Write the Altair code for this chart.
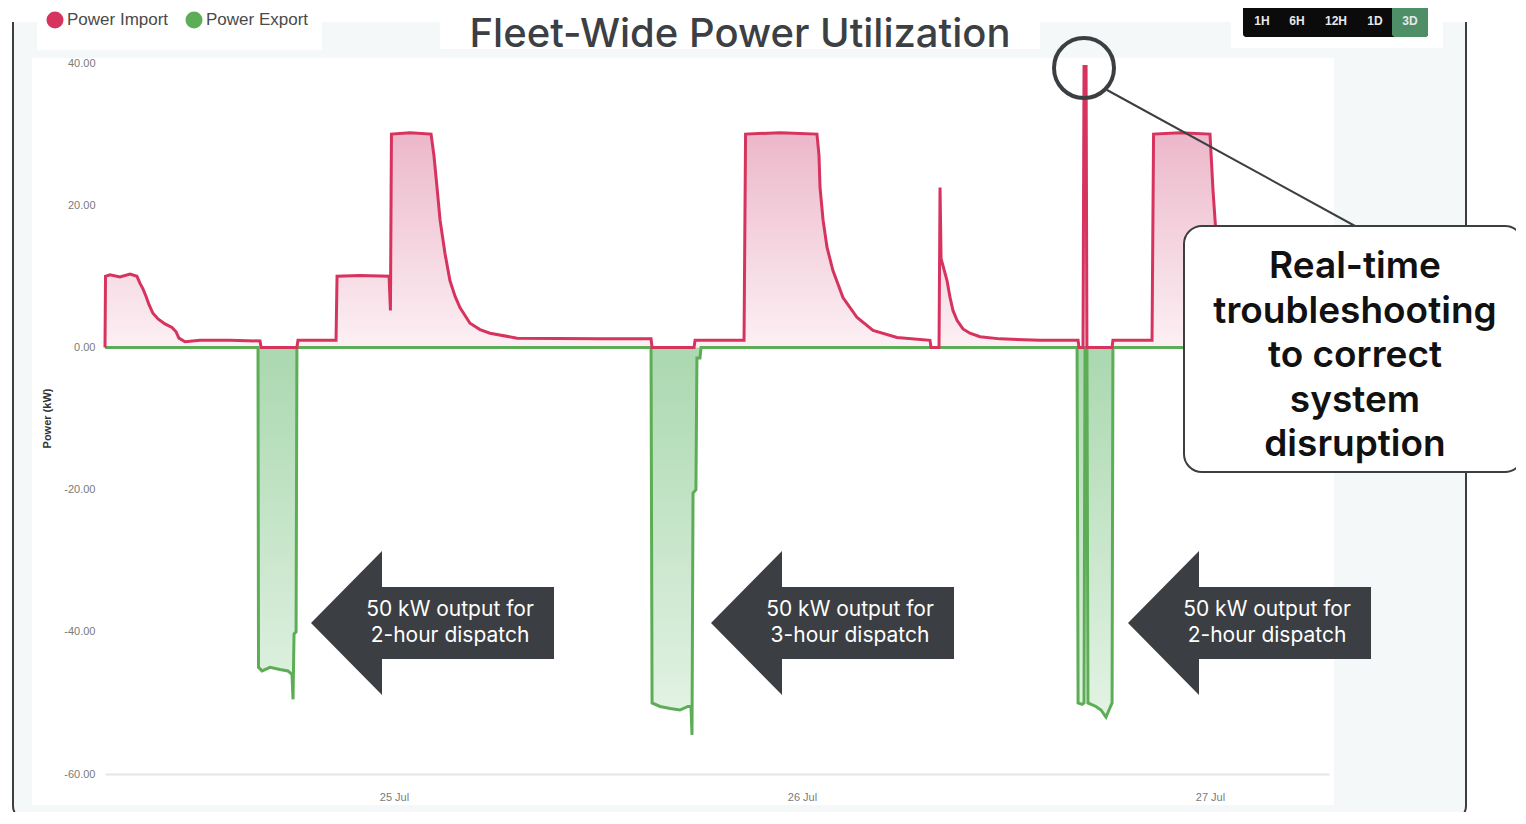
import altair as alt
import pandas as pd

# ---------------- data ----------------
title_text = "Fleet-Wide Power Utilization"
series_names = ["Power Import", "Power Export"]
series_colors = ["#d6335e", "#5cad55"]
range_buttons = ["1H", "6H", "12H", "1D", "3D"]
y_ticks = [-60, -40, -20, 0, 20, 40]
x_tick_days = [25, 26, 27]
dispatch_labels = [
    ["50 kW output for", "2-hour dispatch"],
    ["50 kW output for", "3-hour dispatch"],
    ["50 kW output for", "2-hour dispatch"],
]
callout_lines = ["Real-time", "troubleshooting", "to correct", "system", "disruption"]

# hours since 24 Jul 00:00
import_hours = [7.00, 7.03, 7.29, 7.88, 8.47, 8.88, 9.06, 9.24, 9.41, 9.59, 9.82, 10.12,
                10.53, 10.94, 11.18, 11.35, 11.71, 12.59, 14.35, 16.12, 16.18, 18.29,
                18.35, 20.59, 20.65, 22.00, 23.71, 23.79, 23.85, 24.94, 26.18, 26.35,
                26.53, 26.71, 27.00, 27.29, 27.59, 27.88, 28.47, 29.06, 29.65, 31.24,
                36.12, 39.12, 39.18, 41.65, 41.71, 44.59, 44.68, 46.71, 48.88, 49.00,
                49.06, 49.24, 49.47, 49.82, 50.41, 51.24, 52.18, 53.59, 55.53, 55.59,
                56.06, 56.12, 56.18, 56.35, 56.53, 56.71, 56.88, 57.12, 57.47, 57.88,
                58.47, 59.65, 62.00, 64.24, 64.29, 64.53, 64.59, 64.71, 64.76, 66.24,
                66.29, 68.59, 68.68, 70.24, 72.00, 72.18, 72.41, 72.71, 73.18, 74.06,
                75.24, 76.71, 79.00]
import_kw = [0.0, 10.0, 10.2, 9.9, 10.3, 10.0, 9.0, 8.2, 7.2, 6.0, 4.8, 4.0,
             3.3, 2.8, 2.2, 1.3, 0.8, 1.0, 1.0, 0.9, 0.0, 0.0,
             1.0, 1.0, 10.0, 10.1, 10.0, 5.2, 30.0, 30.2, 30.0, 27.0,
             22.5, 17.9, 13.2, 9.4, 7.2, 5.6, 3.4, 2.5, 2.0, 1.3,
             1.2, 1.2, 0.0, 0.0, 1.0, 1.0, 30.0, 30.2, 30.0, 27.0,
             22.5, 17.9, 14.1, 10.8, 7.0, 4.2, 2.4, 1.4, 1.0, 0.0,
             0.0, 22.5, 12.5, 11.0, 9.4, 7.0, 5.2, 3.8, 2.6, 2.0,
             1.5, 1.2, 1.0, 1.0, 0.0, 0.0, 39.5, 39.5, 0.0, 0.0,
             1.0, 1.0, 30.0, 30.2, 30.0, 22.0, 14.0, 10.0, 7.0, 4.0,
             2.5, 1.6, 1.2]

export_hours = [7.00, 16.00, 16.03, 16.24, 16.71, 17.29, 17.76, 18.00, 18.06, 18.12,
                18.24, 18.29, 39.12, 39.18, 39.65, 40.24, 40.82, 41.29, 41.47, 41.53,
                41.59, 41.76, 41.82, 42.00, 42.06, 64.18, 64.24, 64.47, 64.59, 64.65,
                64.76, 64.82, 65.29, 65.59, 65.88, 66.06, 66.24, 66.29, 79.00]
export_kw = [0.0, 0.0, -45.0, -45.5, -45.0, -45.3, -45.5, -46.0, -49.5, -40.3,
             -40.0, 0.0, 0.0, -50.0, -50.5, -50.8, -51.0, -50.5, -50.5, -54.5,
             -20.5, -20.0, -1.5, -1.5, 0.0, 0.0, -50.0, -50.2, -50.0, 0.0,
             0.0, -50.0, -50.5, -51.0, -52.0, -51.0, -50.0, 0.0, 0.0]

base_day = pd.Timestamp("2024-07-24")
imp = pd.DataFrame({"t": base_day + pd.to_timedelta(import_hours, unit="h"), "kw": import_kw})
exp = pd.DataFrame({"t": base_day + pd.to_timedelta(export_hours, unit="h"), "kw": export_kw})
one = pd.DataFrame({"k": [0]})

# ---------------- scales / axes ----------------
x_scale = alt.Scale(domain=[alt.DateTime(year=2024, month=7, date=24, hours=7),
                            alt.DateTime(year=2024, month=7, date=27, hours=7)])
y_scale = alt.Scale(domain=[-60, 40], nice=False, zero=False)
x_axis = alt.Axis(values=[alt.DateTime(year=2024, month=7, date=d) for d in x_tick_days],
                  format="%d %b", labelFont="Liberation Sans", labelFontSize=11,
                  labelColor="#7a7a7a", ticks=False, domain=True, domainColor="#e6e6e6",
                  domainWidth=2, grid=False, labelPadding=17, labelFlush=False,
                  labelOverlap=False, title=None, zindex=1)
y_axis = alt.Axis(values=y_ticks,
                  labelExpr="replace(format(datum.value, '.2f'), '\u2212', '-')",
                  labelFont="Liberation Sans", labelFontSize=11,
                  labelColor="#7a7a7a", ticks=False, domain=False, grid=False,
                  labelPadding=10, labelOverlap=False, labelFlush=False,
                  title="Power (kW)", titleFont="Liberation Sans", titleFontSize=11,
                  titleFontWeight="bold", titleColor="#333333", titleAngle=270,
                  titleX=-58, titleY=355, titleAlign="center", titleBaseline="middle",
                  zindex=1)

X = alt.X("t:T", scale=x_scale, axis=x_axis)
Y = alt.Y("kw:Q", scale=y_scale, axis=y_axis)

imp_area = alt.Chart(imp).mark_area(
    color=alt.Gradient(gradient="linear",
                       stops=[alt.GradientStop(color="#e7a6bd", offset=0),
                              alt.GradientStop(color="#fcf0f4", offset=1)],
                       x1=0, x2=0, y1=0, y2=1)
).encode(x=X, y=Y, y2=alt.datum(0))
exp_area = alt.Chart(exp).mark_area(
    color=alt.Gradient(gradient="linear",
                       stops=[alt.GradientStop(color="#aad8af", offset=0),
                              alt.GradientStop(color="#e6f4e7", offset=1)],
                       x1=0, x2=0, y1=0, y2=1)
).encode(x=X, y=Y, y2=alt.datum(0))
exp_line = alt.Chart(exp).mark_line(color=series_colors[1], strokeWidth=3).encode(x=X, y=Y)
imp_line = alt.Chart(imp).mark_line(color=series_colors[0], strokeWidth=3).encode(x=X, y=Y)


# ---------------- decoration helpers (pixel positions relative to plot origin) ----------------
def rect(x, x2, y, y2, **kw):
    return alt.Chart(one).mark_rect(**kw).encode(
        x=alt.value(x), x2=alt.value(x2), y=alt.value(y), y2=alt.value(y2))


def text(x, y, s, **kw):
    return alt.Chart(one).mark_text(**kw).encode(
        x=alt.value(x), y=alt.value(y), text=alt.value(s))


def point(x, y, **kw):
    return alt.Chart(one).mark_point(**kw).encode(x=alt.value(x), y=alt.value(y))


DARK = "#3c3f42"
layers = []
# outer panel with frame
layers.append(rect(-92, 1361, -80, 757, fill="#f4f8f9", stroke=DARK, strokeWidth=2,
                   cornerRadius=14))
# white strip above the panel
layers.append(rect(-110, 1420, -70, -41, fill="white"))
# white chart card
layers.append(rect(-73, 1229, -5, 742, fill="white"))
# legend box, title box, button box
layers.append(rect(-68, 217, -70, -13, fill="white"))
layers.append(rect(335, 935, -70, -14, fill="white"))
layers.append(rect(1126, 1338, -70, -15, fill="white"))
# title
layers.append(text(635, -16, title_text, font="Inter", fontSize=40, fontWeight=500,
                   color="#3c3f44", align="center", baseline="alphabetic"))
# legend
leg_x = [-50, 89]
for name, col, lx in zip(series_names, series_colors, leg_x):
    layers.append(point(lx, -43, shape="circle", filled=True, size=289, color=col, opacity=1))
    layers.append(text(lx + 12, -43, name, font="Liberation Sans", fontSize=17,
                       color="#4a4a4a", align="left", baseline="middle"))
# range buttons
layers.append(rect(1138, 1323, -60, -26, fill="#0b0b0b", cornerRadius=3))
layers.append(rect(1287, 1323, -60, -26, fill="#4f8f68", cornerRadius=3))
btn_x = [1157, 1192, 1231, 1270, 1305]
for b, bx in zip(range_buttons, btn_x):
    layers.append(text(bx, -42, b, font="Liberation Sans", fontSize=12, fontWeight="bold",
                       color="#e8e8e8", align="center", baseline="middle"))

data_layers = [imp_area, exp_area, exp_line, imp_line]

# dispatch arrows
arrow_path = "M -0.986 0 L 0 -1 L 0 -0.5 L 2.389 -0.5 L 2.389 0.5 L 0 0.5 L 0 1 Z"
arrow_base = [277, 677, 1094]
ann = []
for bx, lines in zip(arrow_base, dispatch_labels):
    ann.append(point(bx, 560, shape=arrow_path, size=20736, filled=True, color="#3b3e42",
                     opacity=1, strokeWidth=0))
    ann.append(text(bx + 68, 547, lines[0], font="Inter", fontSize=21, color="white",
                    align="center", baseline="middle"))
    ann.append(text(bx + 68, 573, lines[1], font="Inter", fontSize=21, color="white",
                    align="center", baseline="middle"))

# troubleshooting circle, connector and callout
ann.append(point(979, 5, shape="circle", filled=False, size=3600, color=DARK,
                 strokeWidth=4, opacity=1))
ann.append(alt.Chart(one).mark_rule(color=DARK, strokeWidth=2).encode(
    x=alt.value(1002), y=alt.value(27), x2=alt.value(1250), y2=alt.value(163)))
ann.append(rect(1079, 1418, 163, 409, fill="white", stroke=DARK, strokeWidth=2,
                cornerRadius=18))
line_y = [204, 249, 293, 338, 382]
for s, ly in zip(callout_lines, line_y):
    ann.append(text(1250, ly, s, font="Inter", fontSize=37, fontWeight=600, color="#111111",
                    align="center", baseline="middle"))

chart = alt.layer(*layers, *data_layers, *ann).properties(
    width=1224, height=711,
    autosize=alt.AutoSizeParams(type="none"),
    padding={"left": 97, "top": 55, "right": 187, "bottom": 38},
).configure_view(strokeWidth=0)

chart.save("out.html", embed_options={"renderer": "svg", "actions": False})
